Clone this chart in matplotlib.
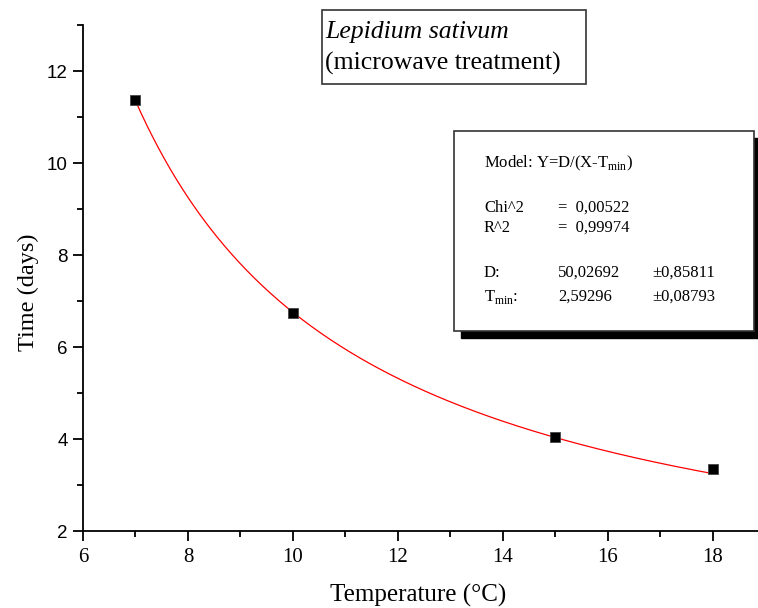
import numpy as np
import matplotlib
matplotlib.use("Agg")
import matplotlib.pyplot as plt
from matplotlib.ticker import MultipleLocator
from matplotlib.patches import Rectangle

# Data
temperature = [7, 10, 15, 18]
time_days = [11.37, 6.74, 4.04, 3.35]

# Fit parameters shown in the chart (Model: Y = D/(X - Tmin))
D_fit = 50.02692
Tmin_fit = 2.59296

x_ticks = [6, 8, 10, 12, 14, 16, 18]
y_ticks = [2, 4, 6, 8, 10, 12]

fig = plt.figure(figsize=(7.58, 6.08), dpi=100)
ax = fig.add_axes([83/758, 77/608, 1 - 83/758, (531-25)/608])

xf = np.linspace(min(temperature), max(temperature), 300)
ax.plot(xf, D_fit / (xf - Tmin_fit), color='red', lw=0.9, zorder=2)
ax.plot(temperature, time_days, ls='none', marker='s', ms=7, mfc='black',
        mec='#444444', mew=0.6, zorder=3)

ax.set_xlim(6, 18.86)
ax.set_ylim(2, 13)
ax.set_xticks(x_ticks)
ax.set_yticks(y_ticks)
ax.xaxis.set_minor_locator(MultipleLocator(1))
ax.yaxis.set_minor_locator(MultipleLocator(1))

for s in ['top', 'right']:
    ax.spines[s].set_visible(False)
for s in ['left', 'bottom']:
    ax.spines[s].set_linewidth(1.3)

ax.tick_params(axis='both', which='major', length=7, width=1.3, direction='out')
ax.tick_params(axis='both', which='minor', length=4, width=1.3, direction='out')
ax.tick_params(axis='y', labelsize=13.5, pad=4)
ax.tick_params(axis='x', labelsize=15, pad=5)
for lab in ax.get_yticklabels():
    lab.set_fontfamily('Liberation Sans')
for lab in ax.get_xticklabels():
    lab.set_fontfamily('Liberation Serif')

ax.set_xlabel('Temperature (°C)', fontsize=18, family='Liberation Serif')
ax.set_ylabel('Time (days)', fontsize=17.5, family='Liberation Serif')
ax.xaxis.set_label_coords((418-83)/675, (531-595)/506)
ax.xaxis.label.set_va('center')
ax.yaxis.set_label_coords((28-83)/675, (531-292)/506)
ax.yaxis.label.set_va('center')

# Title box
fig.patches.append(Rectangle((322/758, 1 - 84/608), (586-322)/758, (84-10)/608,
                             transform=fig.transFigure, fill=False, ec='#333333', lw=1.2))
fig.text(325/758, 1 - 32/608, 'Lepidium sativum', fontsize=18.5, style='italic',
         family='Liberation Serif', va='center', ha='left')
fig.text(325/758, 1 - 63/608, '(microwave treatment)', fontsize=18.5,
         family='Liberation Serif', va='center', ha='left')

# Stats box with shadow
bx0, by0, bx1, by1 = 454, 131, 754, 331
off = 7
fig.patches.append(Rectangle(((bx0+off)/758, 1 - (by1+off)/608), (bx1-bx0)/758, (by1-by0)/608,
                             transform=fig.transFigure, fc='black', ec='black', lw=1, zorder=1))
fig.patches.append(Rectangle((bx0/758, 1 - by1/608), (bx1-bx0)/758, (by1-by0)/608,
                             transform=fig.transFigure, fc='white', ec='#333333', lw=1.2, zorder=2))

fs = 12
def t(x, y, s):
    fig.text(x/758, 1 - y/608, s, fontsize=fs, family='Liberation Serif',
             va='center', ha='left', zorder=3)

t(484, 163, r'Model: Y=D/(X-T$_{\mathregular{min}}$)')
t(484, 208, 'Chi^2')
t(558, 208, '=  0,00522')
t(484, 228, 'R^2')
t(558, 228, '=  0,99974')
t(484, 273, 'D:')
t(558, 273, '50,02692')
t(652, 273, '±0,85811')
t(484, 297, r'T$_{\mathregular{min}}$:')
t(558, 297, '2,59296')
t(652, 297, '±0,08793')

fig.savefig('out.png', dpi=100)
